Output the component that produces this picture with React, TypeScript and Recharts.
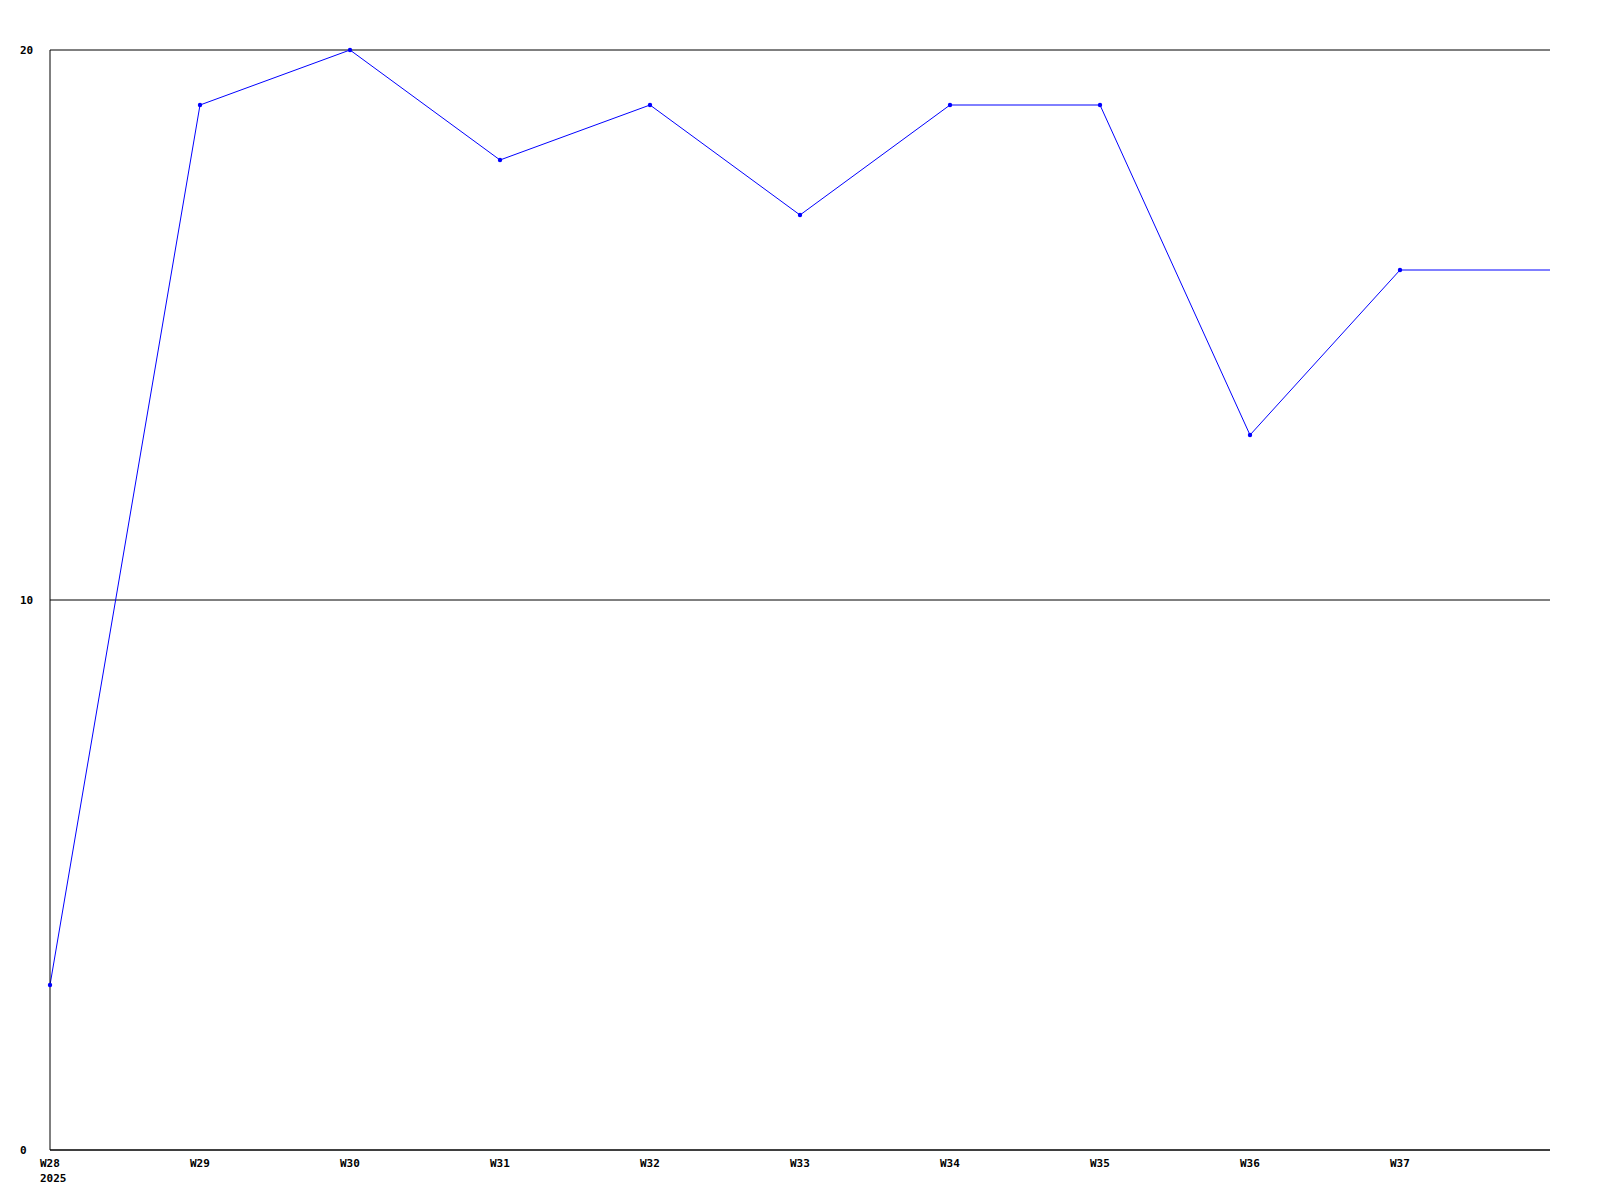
import { LineChart, Line, XAxis, YAxis, CartesianGrid } from "recharts";

const weeks = ["W28", "W29", "W30", "W31", "W32", "W33", "W34", "W35", "W36", "W37", "W38"];
const values = [3, 19, 20, 18, 19, 17, 19, 19, 13, 16, 16];
const yTicks = [0, 10, 20];
const firstYear = "2025";

const data = weeks.map((week, i) => ({ week, value: values[i] }));

const FONT = "'DejaVu Sans Mono', monospace";

function WeekTick(props: any) {
  const { x, y, payload, index } = props;
  // last week is only the end of the line, no label there
  if (index === weeks.length - 1) return null;
  return (
    <g>
      <text x={x - 10} y={y + 9} textAnchor="start" fontFamily={FONT} fontSize={11} fontWeight="bold" fill="#000">
        {payload.value}
      </text>
      {index === 0 && (
        <text x={x - 10} y={y + 24} textAnchor="start" fontFamily={FONT} fontSize={11} fontWeight="bold" fill="#000">
          {firstYear}
        </text>
      )}
    </g>
  );
}

function ValueTick(props: any) {
  const { y, payload } = props;
  return (
    <text x={20} y={y + 4} textAnchor="start" fontFamily={FONT} fontSize={11} fontWeight="bold" fill="#000">
      {payload.value}
    </text>
  );
}

function Dot(props: any) {
  const { cx, cy, index } = props;
  if (index === weeks.length - 1) return null;
  return <circle key={`dot-${index}`} cx={cx} cy={cy} r={2.2} fill="#0000ff" stroke="none" />;
}

export default function App() {
  return (
    <div style={{ position: "absolute", left: 0, top: 0, background: "#fff" }}>
      <LineChart width={1600} height={1200} data={data} margin={{ top: 50, right: 50, bottom: 0, left: 0 }}>
        <CartesianGrid vertical={false} stroke="#000" strokeDasharray="" />
        <XAxis
          dataKey="week"
          height={50}
          stroke="#000"
          tickLine={false}
          interval={0}
          tick={<WeekTick />}
        />
        <YAxis
          width={50}
          domain={[0, 20]}
          ticks={yTicks}
          stroke="#000"
          tickLine={false}
          tick={<ValueTick />}
        />
        <Line
          type="linear"
          dataKey="value"
          stroke="#0000ff"
          strokeWidth={1}
          dot={<Dot />}
          activeDot={false}
          isAnimationActive={false}
        />
      </LineChart>
    </div>
  );
}
